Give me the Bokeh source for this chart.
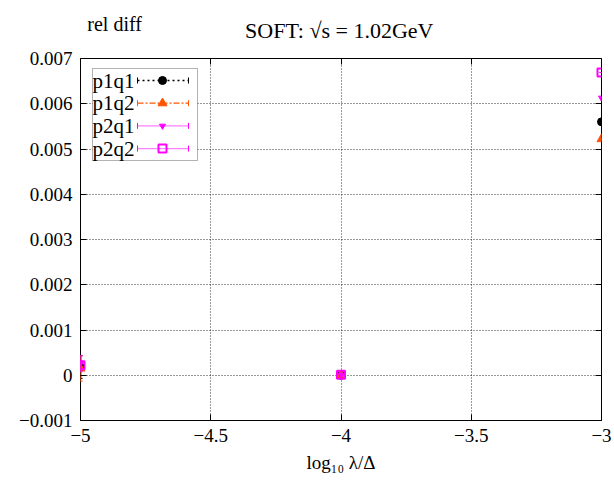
from bokeh.plotting import figure
from bokeh.models import (FixedTicker, CustomJSTickFormatter, Label, BoxAnnotation,
                          LinearAxis, Range1d)
from bokeh.layouts import column
from bokeh.embed import file_html
from bokeh.resources import INLINE

# ---- data ----
x = [-5.0, -4.0, -3.0]
p1q1 = [0.00018, 0.0, 0.00560]
p1q1_err = [0.00025, 0.00002, 0.0]
p1q2 = [0.00015, 0.0, 0.00522]
p1q2_err = [0.00028, 0.00002, 0.0]
p2q1 = [0.00026, 0.00001, 0.00613]
p2q1_err = [0.00018, 0.00002, 0.0]
p2q2 = [0.00022, 0.00001, 0.00669]
p2q2_err = [0.00010, 0.00002, 0.0]

x_ticks = [-5, -4.5, -4, -3.5, -3]
y_ticks = [-0.001, 0, 0.001, 0.002, 0.003, 0.004, 0.005, 0.006, 0.007]
series_names = ["p1q1", "p1q2", "p2q1", "p2q2"]
title_text = "SOFT: \u221As = 1.02GeV"
ylabel_text = "rel diff"
xlabel_text = "log\u2081\u2080 \u03bb/\u0394"

FONT = "Liberation Serif"
W, H = 614, 480
TOP_H = 44                      # header strip holding the title and the y label
L, R, T, B = 80, 13, 14, 60     # borders of the main figure
MH = H - TOP_H
FW, FH = W - L - R, MH - T - B

# ---- header strip ----
top = figure(width=W, height=TOP_H, output_backend="svg", toolbar_location=None,
             x_range=Range1d(0, W), y_range=Range1d(0, TOP_H), min_border=0)
top.axis.visible = False
top.grid.visible = False
top.outline_line_color = None
top.border_fill_color = "white"
top.background_fill_color = "white"
top.add_layout(Label(x=305, y=TOP_H - 30, text=title_text, text_font=FONT,
                     text_font_size="22px", text_align="center", text_baseline="middle",
                     text_color="black"))
top.add_layout(Label(x=8, y=TOP_H - 23, text=ylabel_text, text_font=FONT,
                     text_font_size="20px", text_align="left", text_baseline="middle",
                     text_color="black"))

# ---- main plot ----
p = figure(width=W, height=MH, output_backend="svg", toolbar_location=None,
           x_range=Range1d(-5, -3), y_range=Range1d(-0.001, 0.007),
           min_border_left=L, min_border_right=R, min_border_top=T, min_border_bottom=B)
p.background_fill_color = "white"
p.border_fill_color = "white"
p.outline_line_color = "black"
p.outline_line_width = 1

fmt = CustomJSTickFormatter(code="""
if (Math.abs(tick) < 1e-12) return '0';
var s = Math.abs(tick) < 0.1 ? Math.abs(tick).toFixed(3) : String(Math.abs(tick));
return (tick < 0 ? '\u2212' : '') + s;
""")

for ax, ticks in ((p.xaxis[0], x_ticks), (p.yaxis[0], y_ticks)):
    ax.ticker = FixedTicker(ticks=ticks)
    ax.formatter = fmt
    ax.major_label_text_font = FONT
    ax.major_label_text_font_size = "19px"
    ax.major_label_text_color = "black"
    ax.axis_line_color = None
    ax.major_tick_in = 6
    ax.major_tick_out = 0
    ax.minor_tick_in = 0
    ax.minor_tick_out = 0
    ax.major_tick_line_color = "black"
    ax.major_label_standoff = 8

p.xaxis.axis_label = xlabel_text
p.xaxis.axis_label_text_font = FONT
p.xaxis.axis_label_text_font_size = "19px"
p.xaxis.axis_label_text_font_style = "normal"
p.xaxis.axis_label_text_color = "black"
p.xaxis.axis_label_standoff = 7

for loc, ticks in (("right", y_ticks), ("above", x_ticks)):
    a = LinearAxis(ticker=FixedTicker(ticks=ticks), axis_line_color=None,
                   formatter=CustomJSTickFormatter(code="return '';"),
                   major_tick_in=6, major_tick_out=0, minor_tick_in=0, minor_tick_out=0,
                   major_label_standoff=0)
    p.add_layout(a, loc)

p.xgrid.ticker = FixedTicker(ticks=x_ticks)
p.ygrid.ticker = FixedTicker(ticks=y_ticks)
for g in (p.xgrid, p.ygrid):
    g.grid_line_color = "black"
    g.grid_line_dash = "1 2"
    g.grid_line_width = 1
    g.grid_line_alpha = 0.8

styles = [
    dict(color="black", dash="2 3", marker="circle", fill="black", size=8),
    dict(color="#ff5500", dash="6 2 2 2", marker="triangle", fill="#ff5500", size=9),
    dict(color="#ff00ff", dash="1 1", marker="inverted_triangle", fill="#ff00ff", size=6),
    dict(color="#ff00ff", dash="1 1", marker="square", fill=None, size=8),
]
data = [(p1q1, p1q1_err), (p1q2, p1q2_err), (p2q1, p2q1_err), (p2q2, p2q2_err)]

for (vals, errs), st in zip(data, styles):
    lo = [v - e for v, e in zip(vals, errs)]
    hi = [v + e for v, e in zip(vals, errs)]
    p.segment(x0=x, y0=lo, x1=x, y1=hi, line_color=st["color"], line_width=1.5)
    p.segment(x0=[xi - 0.008 for xi in x], y0=lo, x1=[xi + 0.008 for xi in x], y1=lo,
              line_color=st["color"], line_width=1)
    p.segment(x0=[xi - 0.008 for xi in x], y0=hi, x1=[xi + 0.008 for xi in x], y1=hi,
              line_color=st["color"], line_width=1)
    if st["fill"]:
        p.scatter(x, vals, marker=st["marker"], size=st["size"], fill_color=st["fill"],
                  line_color=st["color"])
    else:
        p.scatter(x, vals, marker=st["marker"], size=st["size"], fill_color=None,
                  line_color=st["color"], line_width=2)

# ---- legend (drawn by hand: labels left, samples right); py = page pixel row ----
def dx(px):
    return -5 + (px - L) / FW * 2

def dy(py):
    return 0.007 - (py - TOP_H - T) / FH * 0.008

p.add_layout(BoxAnnotation(left=dx(92), right=dx(197), top=dy(68), bottom=dy(160),
                           fill_color="white", fill_alpha=1, line_color="black",
                           line_width=1, level="underlay"))
for i, (name, st) in enumerate(zip(series_names, styles)):
    yc = 80 + i * 22.7
    p.add_layout(Label(x=dx(92), y=dy(yc), text=name, text_font=FONT,
                       text_font_size="21px", text_baseline="middle", text_color="black"))
    p.line([dx(137), dx(188)], [dy(yc), dy(yc)], line_color=st["color"],
           line_dash=st["dash"], line_width=1.3)
    p.segment([dx(137), dx(188)], [dy(yc - 3), dy(yc - 3)], [dx(137), dx(188)],
              [dy(yc + 3), dy(yc + 3)], line_color=st["color"], line_width=1)
    if st["fill"]:
        p.scatter([dx(162)], [dy(yc)], marker=st["marker"], size=st["size"],
                  fill_color=st["fill"], line_color=st["color"])
    else:
        p.scatter([dx(162)], [dy(yc)], marker=st["marker"], size=st["size"],
                  fill_color=None, line_color=st["color"], line_width=2)

layout = column(top, p, spacing=0)
open("out.html", "w").write(file_html(layout, INLINE))
